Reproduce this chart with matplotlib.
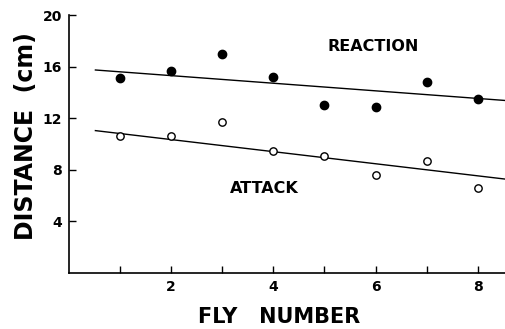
import numpy as np
import matplotlib
matplotlib.use("Agg")
import matplotlib.pyplot as plt

plt.rcParams['font.family'] = ['DejaVu Sans']

fly = [1, 2, 3, 4, 5, 6, 7, 8]
reaction = [15.1, 15.7, 17.0, 15.2, 13.0, 12.9, 14.8, 13.5]
attack = [10.6, 10.6, 11.75, 9.5, 9.1, 7.6, 8.7, 6.6]
# regression lines: (slope, intercept)
reaction_fit = (-0.295, 15.9)
attack_fit = (-0.469, 11.29)
yticks = [4, 8, 12, 16, 20]
xticks_labeled = [2, 4, 6, 8]

fig = plt.figure(figsize=(5.06, 3.29), dpi=100)
ax = fig.add_axes([0.136, 0.170, 0.864, 0.784])

xl = np.array([0.52, 8.6])
for m, b in (reaction_fit, attack_fit):
    ax.plot(xl, m * xl + b, color='black', lw=1.0)

ax.plot(fly, reaction, 'o', color='black', markersize=6.0, zorder=3)
ax.plot(fly, attack, 'o', markerfacecolor='white', markeredgecolor='black',
        markeredgewidth=1.0, markersize=5.3, zorder=3)

ax.set_xlim(0, 8.55)
ax.set_ylim(0, 20)
ax.set_yticks(yticks)
ax.set_yticklabels([str(t) for t in yticks], fontsize=10, fontweight='bold')
ax.set_xticks(fly)
ax.set_xticklabels([str(t) if t in xticks_labeled else '' for t in fly],
                   fontsize=10, fontweight='bold')
ax.tick_params(axis='x', direction='in', length=5, width=1.0, pad=5)
ax.tick_params(axis='y', direction='in', length=5, width=1.0, pad=5)
ax.spines['top'].set_visible(False)
ax.spines['right'].set_visible(False)
ax.spines['left'].set_linewidth(1.2)
ax.spines['bottom'].set_linewidth(1.2)

ax.text(5.96, 17.6, 'REACTION', fontsize=11.5, fontweight='bold', ha='center', va='center')
ax.text(3.83, 6.55, 'ATTACK', fontsize=11.5, fontweight='bold', ha='center', va='center')

ax.set_ylabel('DISTANCE  (cm)', fontsize=17, fontweight='bold')
ax.yaxis.set_label_coords(-0.098, 0.533)
ax.yaxis.label.set_va('center')
ax.set_xlabel('FLY   NUMBER', fontsize=15, fontweight='bold')
ax.xaxis.set_label_coords(0.482, -0.171)
ax.xaxis.label.set_va('center')

fig.savefig('out.png', dpi=100)
